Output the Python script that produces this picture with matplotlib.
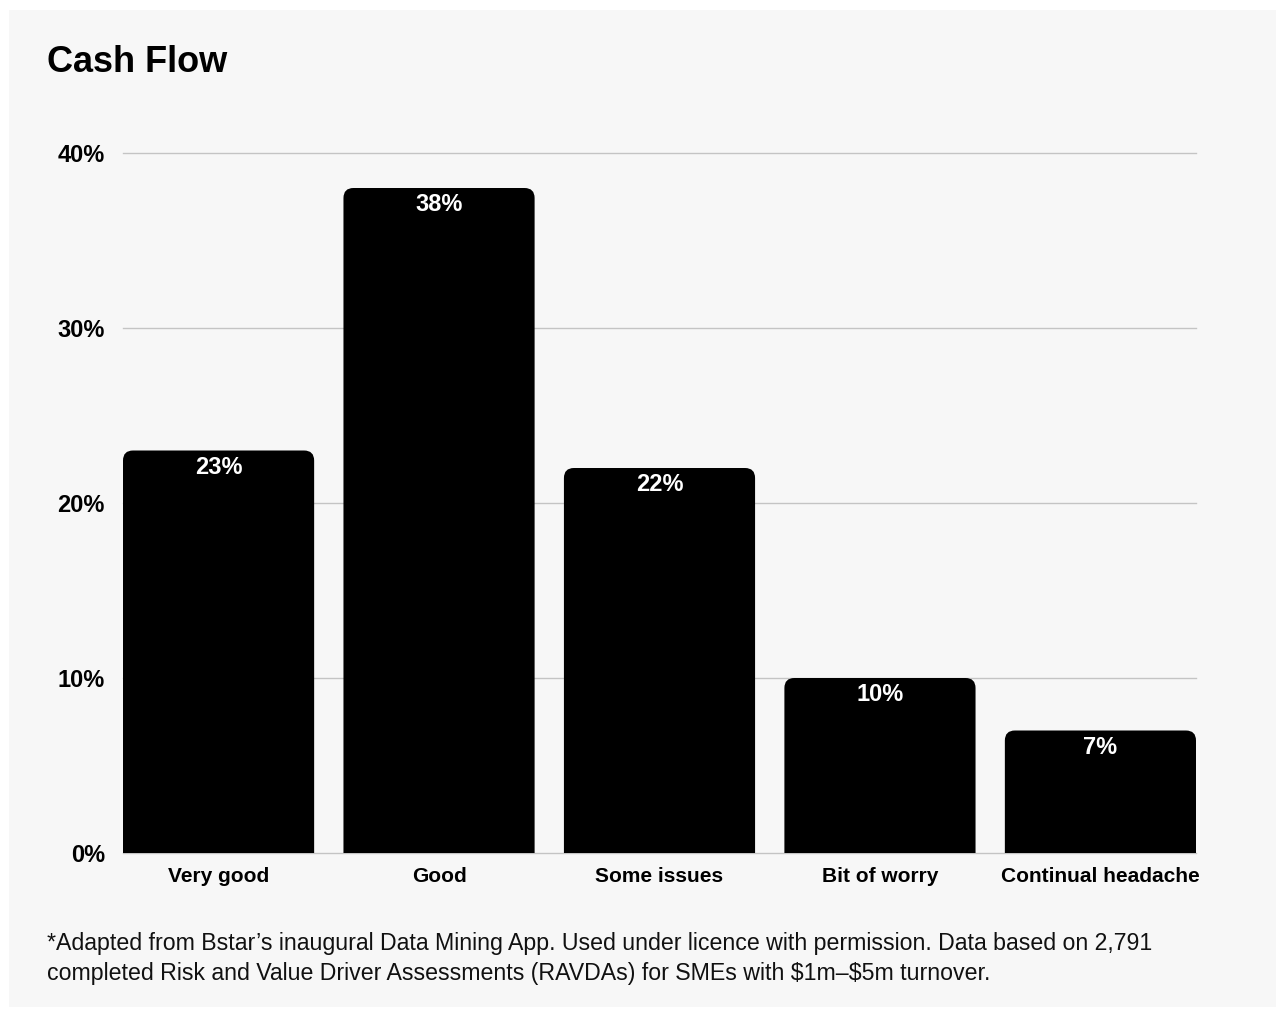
import numpy as np
import matplotlib.pyplot as plt
from matplotlib.patches import FancyBboxPatch, Rectangle

categories = ["Very good", "Good", "Some issues", "Bit of worry", "Continual headache"]
values = [23, 38, 22, 10, 7]
yticks = [0, 10, 20, 30, 40]
ytick_labels = ["0%", "10%", "20%", "30%", "40%"]

title = "Cash Flow"
footnote = ("*Adapted from Bstar\u2019s inaugural Data Mining App. Used under licence with permission. "
            "Data based on 2,791\ncompleted Risk and Value Driver Assessments (RAVDAs) for SMEs with "
            "\\$1m\u2013\\$5m turnover.")

plt.rcParams['font.family'] = ['Liberation Sans', 'DejaVu Sans']

W, H = 1276, 1016
fig = plt.figure(figsize=(W / 100, H / 100), dpi=100)
fig.patch.set_facecolor("white")

# grey panel
fig.patches.append(Rectangle((9 / W, 1 - 1007 / H), (W - 9) / W, (1007 - 10) / H,
                             transform=fig.transFigure, facecolor="#f7f7f7",
                             edgecolor="none", zorder=-5))

ax = fig.add_axes([123 / W, 1 - 853 / H, (1196 - 123) / W, (853 - 153) / H])
ax.set_zorder(2)
ax.set_facecolor("none")

bar_w = 0.867
x = np.arange(len(categories))
ax.set_xlim(-bar_w / 2, len(categories) - 1 + bar_w / 2)
ax.set_ylim(0, 40)

# gridlines
for t in yticks:
    ax.axhline(t, color="#c4c4c4", lw=1.0, zorder=1, clip_on=False)

# rounded-top bars: radius ~10px
rx = 10 / 220.4
ry = 10 / 17.5
for xi, v in zip(x, values):
    p = FancyBboxPatch((xi - bar_w / 2, -3), bar_w, v + 3,
                       boxstyle=f"round,pad=0,rounding_size={rx}",
                       mutation_aspect=ry / rx,
                       facecolor="black", edgecolor="none", zorder=2)
    ax.add_patch(p)
    ax.text(xi, v - 0.95, f"{v}%", ha="center", va="center", color="white",
            fontsize=17, fontweight="bold", zorder=3)

ax.set_yticks(yticks)
ax.set_yticklabels(ytick_labels, fontsize=17, fontweight="bold")
ax.set_xticks(x)
ax.set_xticklabels(categories, fontsize=15, fontweight="bold")
ax.tick_params(axis="y", length=0, pad=13)
ax.tick_params(axis="x", length=0, pad=10)
for s in ax.spines.values():
    s.set_visible(False)

fig.text(47 / W, 1 - 63 / H, title, fontsize=26, fontweight="bold", va="center", ha="left")
fig.text(47 / W, 1 - 932 / H, footnote, fontsize=16.7, va="top", ha="left",
         linespacing=1.38, color="#111111")

fig.savefig("out.png", dpi=100, facecolor=fig.get_facecolor())
